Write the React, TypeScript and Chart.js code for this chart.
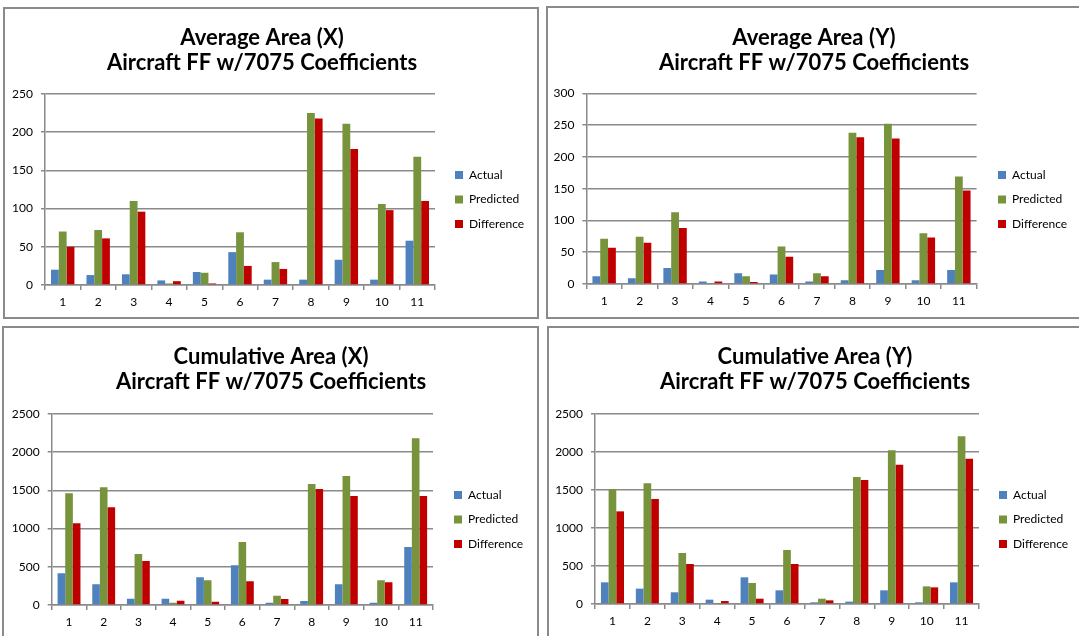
import React, { useEffect, useRef } from 'react';
import { Chart, registerables } from 'chart.js';

Chart.register(...registerables);

const FONT = 'Lato';
const GRID = '#8a8a8a';

const categories = ['1', '2', '3', '4', '5', '6', '7', '8', '9', '10', '11'];
const seriesNames = ['Actual', 'Predicted', 'Difference'];
const seriesColors = ['#4F81BD', '#77933C', '#C00000'];
const subtitle = 'Aircraft FF w/7075 Coefficients';

// Average Area (X)
const avgXActual = [20, 13, 14, 6, 17, 43, 7, 7, 33, 7, 58];
const avgXPredicted = [70, 72, 110, 2, 16, 69, 30, 225, 211, 106, 168];
const avgXDifference = [50, 61, 96, 5, 2, 25, 21, 218, 178, 98, 110];

// Average Area (Y)
const avgYActual = [12, 9, 25, 4, 17, 15, 4, 6, 22, 6, 22];
const avgYPredicted = [71, 74.5, 113, 1.5, 12, 59, 17, 238, 252, 80, 169];
const avgYDifference = [57, 65, 88, 4, 3, 43, 12, 231, 229, 73, 147];

// Cumulative Area (X)
const cumXActual = [414, 270, 83, 83, 362, 519, 30, 52, 270, 30, 759];
const cumXPredicted = [1462, 1540, 668, 30, 323, 825, 122, 1584, 1688, 323, 2181];
const cumXDifference = [1069, 1278, 576, 57, 44, 310, 78, 1518, 1427, 297, 1427];

// Cumulative Area (Y)
const cumYActual = [285, 202, 154, 57, 351, 180, 22, 31, 180, 22, 285];
const cumYPredicted = [1509, 1588, 671, 3, 276, 711, 70, 1671, 2022, 232, 2206];
const cumYDifference = [1219, 1382, 526, 39, 70, 526, 48, 1632, 1833, 219, 1912];

type PanelCfg = {
  title: string[];
  series: number[][];
  yMax: number;
  yStep: number;
  // frame (page coords) and canvas size
  x: number; y: number; bw: number; bh: number; w: number; h: number;
  padR: number; yW: number; xH: number; gapW: number;
  tpT: number; tpB: number; legendX: number; legendY: number;
};

const panels: PanelCfg[] = [
  {
    title: ['Average Area (X)', subtitle],
    series: [avgXActual, avgXPredicted, avgXDifference],
    yMax: 250, yStep: 50,
    x: 3, y: 7, bw: 536, bh: 312, w: 536, h: 312,
    padR: 18, yW: 42, xH: 34, gapW: 6, tpT: 18, tpB: 19, legendX: 452, legendY: 162,
  },
  {
    title: ['Average Area (Y)', subtitle],
    series: [avgYActual, avgYPredicted, avgYDifference],
    yMax: 300, yStep: 50,
    x: 546, y: 6, bw: 542, bh: 313, w: 542, h: 313,
    padR: 6, yW: 40.4, xH: 35, gapW: 25.4, tpT: 19, tpB: 18.3, legendX: 452, legendY: 163,
  },
  {
    title: ['Cumulative Area (X)', subtitle],
    series: [cumXActual, cumXPredicted, cumXDifference],
    yMax: 2500, yStep: 500,
    x: 2, y: 326, bw: 537, bh: 320, w: 540, h: 320,
    padR: 2, yW: 49.7, xH: 41, gapW: 27, tpT: 18, tpB: 20, legendX: 452, legendY: 163,
  },
  {
    title: ['Cumulative Area (Y)', subtitle],
    series: [cumYActual, cumYPredicted, cumYDifference],
    yMax: 2500, yStep: 500,
    x: 547, y: 326, bw: 541, bh: 320, w: 541, h: 320,
    padR: 5, yW: 48, xH: 42, gapW: 24, tpT: 18, tpB: 20, legendX: 452, legendY: 163,
  },
];

const legendPlace = {
  id: 'legendPlace',
  afterLayout(chart: any, _args: any, opts: any) {
    const lg = chart.legend;
    if (!lg || !opts || opts.x == null) return;
    const pad = lg.options.labels.padding;
    const w = 140;
    lg.left = opts.x - pad;
    lg.width = w;
    lg.right = lg.left + w;
    lg.top = opts.y - pad;
    lg.height = 200;
    lg.bottom = lg.top + 200;
  },
};

function BarPanel({ cfg }: { cfg: PanelCfg }) {
  const ref = useRef<HTMLCanvasElement>(null);
  useEffect(() => {
    if (!ref.current) return;
    const tickFont = { family: FONT, size: 12 };
    const chart = new Chart(ref.current, {
      type: 'bar',
      data: {
        labels: categories,
        datasets: seriesNames.map((name, i) => ({
          label: name,
          data: cfg.series[i],
          backgroundColor: seriesColors[i],
          borderWidth: 0,
        })),
      },
      options: {
        responsive: false,
        animation: false,
        devicePixelRatio: 1,
        layout: { padding: { left: 0, right: cfg.padR, top: 0, bottom: 0 } },
        datasets: { bar: { barPercentage: 1, categoryPercentage: 0.66 } } as any,
        plugins: {
          title: {
            display: true,
            text: cfg.title,
            color: '#000',
            font: { family: FONT, size: 22, weight: 'bold', lineHeight: '25px' } as any,
            padding: { top: cfg.tpT, bottom: cfg.tpB },
          },
          legend: {
            position: 'right',
            align: 'start',
            maxWidth: 80,
            labels: {
              boxWidth: 8,
              boxHeight: 8,
              padding: 12.5,
              color: '#000',
              font: { family: FONT, size: 12 },
            },
          },
          tooltip: { enabled: false },
          legendPlace: { x: cfg.legendX, y: cfg.legendY },
        } as any,
        scales: {
          x: {
            grid: { display: true, drawOnChartArea: false, drawTicks: true, tickLength: 5, color: GRID, lineWidth: 1.5 },
            border: { display: true, color: GRID, width: 1.5 },
            ticks: { color: '#000', font: tickFont, padding: 5, maxRotation: 0, autoSkip: false },
            afterFit: (s: any) => { s.height = cfg.xH; },
          },
          y: {
            min: 0,
            max: cfg.yMax,
            ticks: {
              stepSize: cfg.yStep,
              color: '#000',
              font: tickFont,
              padding: 8,
              callback: (v: any) => String(v),
            },
            grid: { color: GRID, lineWidth: 1.5, tickLength: 4 },
            border: { display: true, color: GRID, width: 1.5 },
            afterFit: (s: any) => { s.width = cfg.yW; },
          },
          gap: {
            type: 'linear',
            position: 'right',
            display: true,
            grid: { display: false, drawTicks: false },
            border: { display: false },
            ticks: { display: false },
            afterFit: (s: any) => { s.width = cfg.gapW; },
          },
        } as any,
      },
      plugins: [legendPlace as any],
    });
    return () => chart.destroy();
  }, [cfg]);

  return (
    <>
      <canvas
        ref={ref}
        width={cfg.w}
        height={cfg.h}
        style={{ position: 'absolute', left: cfg.x, top: cfg.y, width: cfg.w, height: cfg.h }}
      />
      <div
        style={{
          position: 'absolute', left: cfg.x, top: cfg.y, width: cfg.bw, height: cfg.bh,
          border: `2px solid ${GRID}`, boxSizing: 'border-box', pointerEvents: 'none',
        }}
      />
    </>
  );
}

export default function App() {
  return (
    <div
      style={{
        position: 'absolute', left: 0, top: 0, width: 1079, height: 636,
        overflow: 'hidden', background: '#fff',
      }}
    >
      {panels.map((p, i) => (
        <BarPanel key={i} cfg={p} />
      ))}
    </div>
  );
}
